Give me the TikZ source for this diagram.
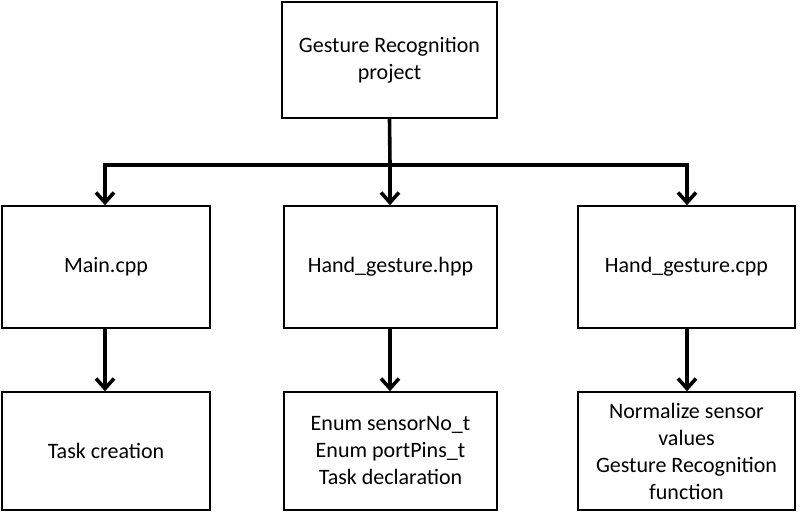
\documentclass[tikz,border=0pt]{standalone}
\usepackage{fontspec}
\setmainfont{Carlito}
\usetikzlibrary{arrows.meta}
\begin{document}
\begin{tikzpicture}[x=1pt,y=-1pt,
  box/.style={draw,line width=1.6pt,align=center,font=\fontsize{22}{27}\selectfont,inner sep=2pt},
  arr/.style={line width=3.6pt,-{Straight Barb[length=10pt,width=18pt,line width=3.6pt]}}]
\useasboundingbox (0,0) rectangle (800,514);
\node[box,minimum width=215pt,minimum height=116pt] (top) at (389.5,60) {Gesture Recognition\\project};
\node[box,minimum width=208pt,minimum height=122pt] (m1) at (106,267) {Main.cpp};
\node[box,minimum width=213pt,minimum height=122pt] (m2) at (390.5,267) {Hand\_gesture.hpp};
\node[box,minimum width=217pt,minimum height=122pt] (m3) at (686.5,267) {Hand\_gesture.cpp};
\node[box,minimum width=208pt,minimum height=118pt] (b1) at (106,451) {Task creation};
\node[box,minimum width=213pt,minimum height=118pt] (b2) at (390.5,451) {Enum sensorNo\_t\\Enum portPins\_t\\Task declaration};
\node[box,minimum width=217pt,minimum height=118pt] (b3) at (686.5,451) {Normalize sensor\\values\\Gesture Recognition\\function};
\coordinate (j) at (390,165);
\coordinate (jl) at (105,165);
\coordinate (jr) at (687,165);
\draw[line width=3.6pt] (top.south) -- (j);
\draw[line width=3.6pt,line cap=rect] (jl) -- (jr);
\draw[arr] (jl) -- (m1.north -| jl);
\draw[arr] (j) -- (m2.north -| j);
\draw[arr] (jr) -- (m3.north -| jr);
\draw[arr] (m1.south -| jl) -- (b1.north -| jl);
\draw[arr] (m2.south -| j) -- (b2.north -| j);
\draw[arr] (m3.south -| jr) -- (b3.north -| jr);
\end{tikzpicture}
\end{document}
